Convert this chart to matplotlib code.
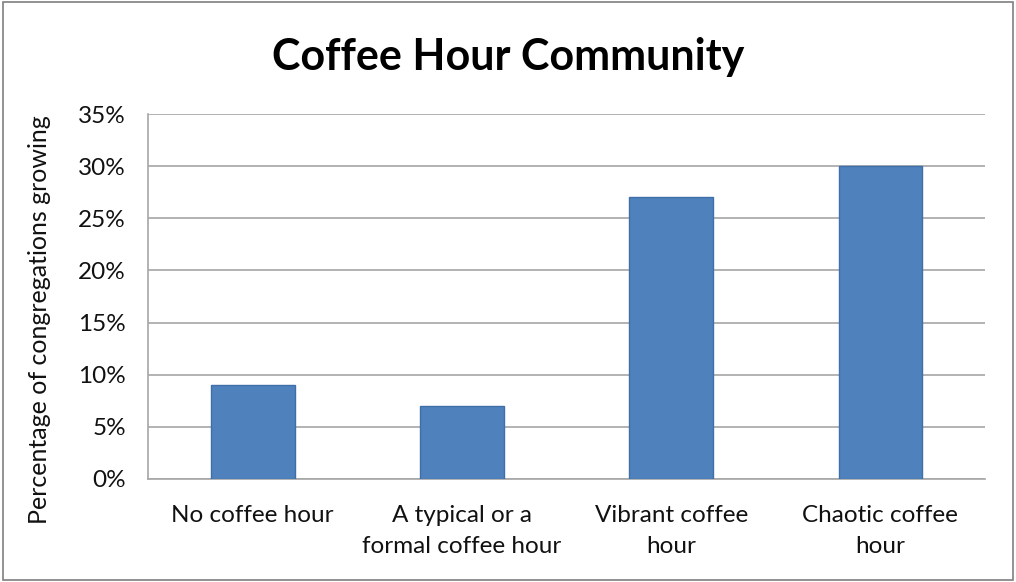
import numpy as np
import matplotlib.pyplot as plt
from matplotlib.patches import Rectangle

# chart data
categories = ['No coffee hour', 'A typical or a\nformal coffee hour',
              'Vibrant coffee\nhour', 'Chaotic coffee\nhour']
values = [9, 7, 27, 30]
yticks = [0, 5, 10, 15, 20, 25, 30, 35]

plt.rcParams['font.family'] = ['Lato', 'DejaVu Sans']

fig = plt.figure(figsize=(10.16, 5.82), dpi=100)
ax = fig.add_axes([0.1457, 0.177, 0.8238, 0.627])

x = np.arange(len(categories))
ax.bar(x, values, width=0.4, color='#4F81BD', edgecolor='#3F6FA8', linewidth=1, zorder=3)

ax.set_xlim(-0.5, len(categories) - 0.5)
ax.set_ylim(0, 35)
ax.set_yticks(yticks)
ax.set_yticklabels([f'{t}%' for t in yticks], fontsize=17.5, color='#111111')
ax.set_xticks(x)
ax.set_xticklabels(categories, fontsize=17.5, color='#111111', linespacing=1.55)
ax.tick_params(axis='y', length=0, pad=16)
ax.tick_params(axis='x', length=0, pad=19)
ax.yaxis.grid(True, color='#A6A6A6', linewidth=1.2, zorder=0)

for s in ['top', 'right']:
    ax.spines[s].set_visible(False)
ax.spines['left'].set_color('#A6A6A6')
ax.spines['bottom'].set_color('#A6A6A6')
ax.spines['left'].set_linewidth(1.2)
ax.spines['bottom'].set_linewidth(1.2)

fig.text(40 / 1016, 0.45, 'Percentage of congregations growing', rotation=90,
         ha='center', va='center', fontsize=18, color='#111111')
fig.text(0.5, 1 - 57 / 582, 'Coffee Hour Community', ha='center', va='center',
         fontsize=31, fontweight='bold')

# outer border
fig.patches.append(Rectangle((0.003, 0.004), 0.994, 0.992, transform=fig.transFigure,
                             fill=False, edgecolor='#7F7F7F', linewidth=1.2))

plt.savefig('out.png', dpi=100)
